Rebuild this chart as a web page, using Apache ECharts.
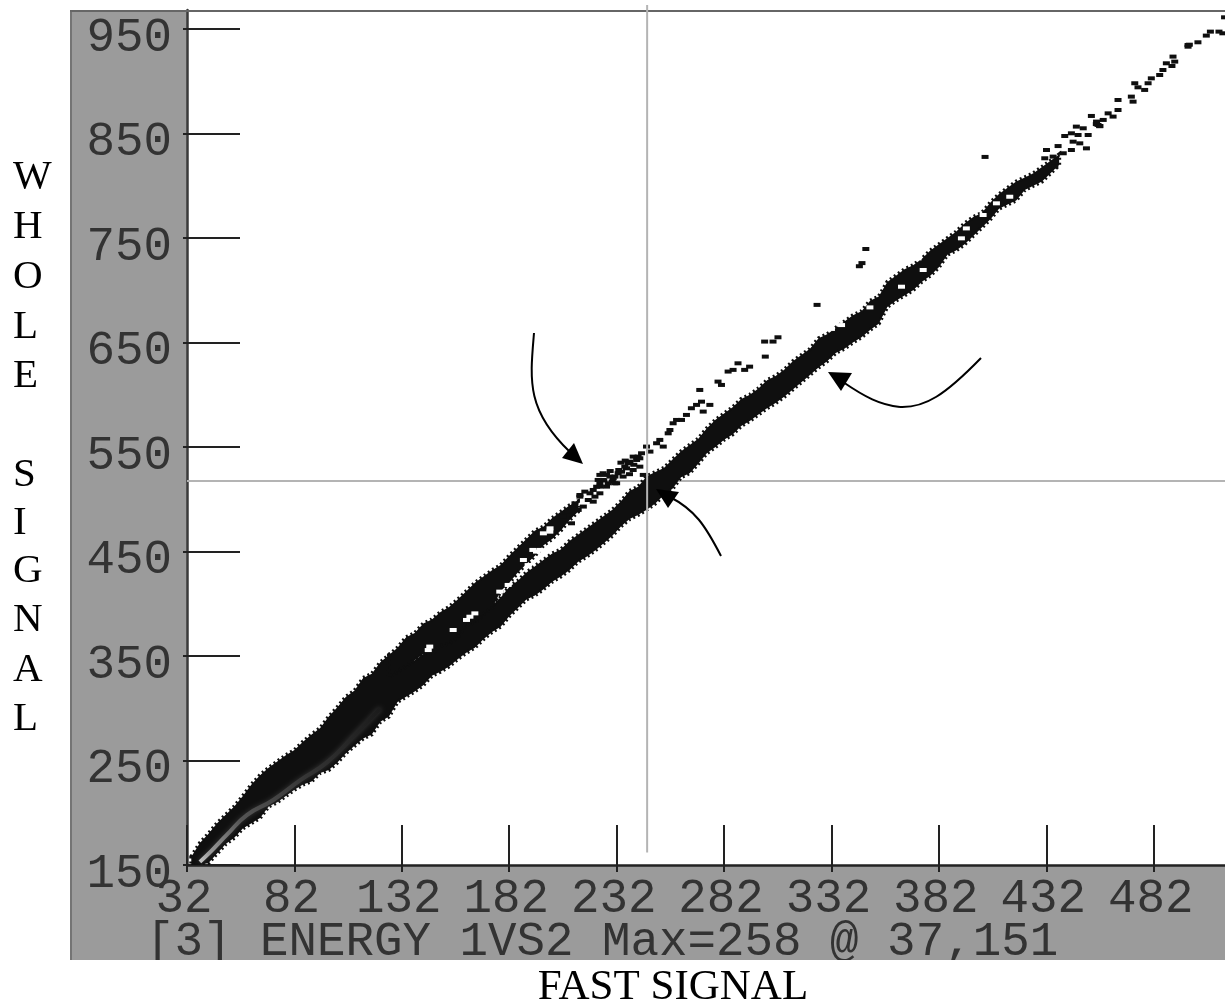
<!DOCTYPE html>
<html><head><meta charset="utf-8">
<style>html,body{margin:0;padding:0;background:#fff}#c{width:1225px;height:1007px}</style>
<script src="https://cdn.jsdelivr.net/npm/echarts@6/dist/echarts.min.js"></script>
</head><body><div id="c"></div>
<script>
const xTicks=[32,82,132,182,232,282,332,382,432,482];
const yTicks=[150,250,350,450,550,650,750,850,950];
const statusLine="[3] ENERGY 1VS2 Max=258 @ 37,151";
const xAxisTitle="FAST SIGNAL";
const yAxisLetters=["W","H","O","L","E","S","I","G","N","A","L"];
const crosshairX=246.2, crosshairY=517.5;

// main locus: fast signal, lower edge, upper edge of the whole signal
const mainX=[34,38,42,46,50,54,58,62,66,70,74,78,82,86,90,94,98,102,106,110,114,118,122,126,130,134,138,142,146,150,154,158,162,166,170,174,178,182,186,190,194,198,202,206,210,214,218,222,226,230,234,238,242,246,250,254,258,262,266,270,274,278,282,286,290,294,298,302,306,310,314,318,322,326,330,334,338,342,346,350,354,358,362,366,370,374,378,382,386,390,394,398,402,406,410,414,418,422,426,430,434,438];
const mainLow=[150,150,152,161,170,176,185,190,195,206,210,216,222,227,230,238,241,248,257,264,271,275,287,292,306,311,316,322,331,335,340,347,353,358,366,373,378,388,396,404,408,414,421,426,432,440,445,451,458,465,474,481,485,490,496,504,510,521,525,534,544,550,557,562,570,575,581,587,592,598,605,612,619,626,632,640,644,650,655,662,668,684,690,695,700,708,714,722,734,738,744,752,760,768,778,782,786,796,800,804,812,820];
const mainHigh=[158,171,180,190,198,206,216,227,236,243,249,255,260,268,275,281,292,301,311,317,329,333,344,351,340,342,346,352,356,364,366,372,382,384,392,398,406,416,422,430,436,442,448,452,460,466,472,478,484,490,498,508,512,522,526,530,538,546,552,558,568,576,582,588,596,600,606,614,618,624,632,638,644,654,658,664,670,676,680,690,694,708,714,720,724,730,738,744,750,756,764,770,774,784,792,798,804,808,812,818,824,830];

// upper locus where it is still dense
const upperX=[126,130,134,138,142,146,150,154,158,162,166,170,174,178,182,186,190,194,198,202,206,210,214];
const upperLow=[330,335,340,346,352,352,360,362,368,380,382,390,396,412,420,430,438,446,456,462,470,480,488];
const upperHigh=[351,358,368,372,381,385,392,397,404,412,420,426,432,437,446,454,462,470,474,482,488,494,498];

// bright ridge inside the low-energy part of the locus
const ridgeX=[38,43.6,50.6,60,72,84.6,97,109,122];
const ridgeY=[153,164,179,198,212,231,248,272,300];

// isolated counts: upper locus fragments, strays, and the far right tail
const speckX=[214.9,219.6,221.1,216.5,224.2,222.7,225.7,228.9,224.2,227.3,232,231.2,235,237.4,239.7,236.6,242.8,242,244.4,243.6,245.9,247.5,250.6,252.1,253.7,256,258.3,259.9,256.8,262.2,264.5,266.8,269.2,271.5,272.3,275.4,270.7,279.2,280.8,283.9,286.2,288.5,291.6,293.9,300.9,304.8,307.1,301.2,226,229,233,238,240,234,230,236,348,346.2,345,325.3,403.5,432.1,437.5,431.3,435.2,439.9,443.7,436,440.6,444.5,447.6,450.7,443.7,446,449.2,446.8,451.5,453,456.1,458.5,460.8,463.1,465.4,465.4,471.6,472.4,473.2,474.7,477.8,479.4,480.9,484.8,486.3,487.9,491,491.8,490.5,498,498.6,502.6,506.5,508.4,512.4,514.2,515,455.3,456.9,214.9,217.2,212.6,214.1,209.5,207.2,211,218.8,221.1,224.2,225.7,228.1,230.4,232.7,235.8,238.2,241.3,239.7,234.3,242.8,221.9,227.3,224.2,223.4,231.2,455.4,456.9,498];
const speckY=[504.1,505.7,497.7,493,505.7,512,524.9,521.7,515.3,512.1,515.3,521.7,521.7,534.4,540.8,529.6,531.2,540.8,523.3,544,550.4,545.6,553.6,556.8,550.4,563.1,572.7,575.9,566.3,575.9,580.7,587.1,590.3,593.4,583.9,590.3,604.6,612.6,609.4,622.2,623.8,630.1,623.8,626.9,650.9,650.9,655,636.5,518,527,528,524,533,535,517,537,739.5,726,723,686,827.6,834.2,838,826.3,827.9,831.1,834.2,818.3,847.6,842.2,840.6,835.8,850.2,856.6,855,848.6,848.6,866.8,858.2,863,869.3,866.2,872.5,882.1,885.3,880.5,898.1,894.2,891.7,898.1,902.8,906,910.8,917.2,923.6,918.8,914.6,933.1,935,937.3,943.7,947.5,947.5,945.9,961.2,859,857,502.5,507.3,496.1,489.8,488.2,483.4,477,499.3,508.9,512.1,518.5,515.3,520.1,524.9,531.2,536,537.6,528,526.4,539.2,502.5,523.3,523.3,518.5,515.3,861.4,857.2,934.7];

// empty bins inside the dense loci
const holeX=[332,336.7,349.9,374.7,364.6,372.3,394.8,392.5,408.8,402.6,415,197.9,201,193,188.6,196.3,144.3,155.9,162.1,166,177.6,181.5,190.8,194.7,200.9,145,163.7];
const holeY=[663,666.7,683.6,719.4,703.4,730.5,759.2,749.7,783.2,772,789.5,467.4,472.2,451.5,441.9,451.5,355.7,374.9,384.5,390.8,411.6,418,437,449.9,469,359,387.6];

const INK='#0f0f0f', PANEL='#9b9b9b', CROSS='#b4b4b4', TICK='#222';
const labelStyle={color:'#333',fontFamily:'Liberation Mono',fontSize:47.5};
const zip=(a,b)=>a.map((v,i)=>[v,b[i]]);
const band=(name,xs,lo,hi)=>({
 name,type:'custom',clip:true,silent:true,z:3,
 data:xs.map((v,i)=>[v,lo[i],hi[i]]),
 encode:{x:0,y:[1,2]},
 renderItem(params,api){
  if(params.dataIndex!==0) return null;
  const top=xs.map((v,i)=>api.coord([v,hi[i]]));
  const bottom=xs.map((v,i)=>api.coord([v,lo[i]])).reverse();
  // the dashed outline gives the edge its fine, grainy roughness
  return {type:'polygon',shape:{points:top.concat(bottom)},style:{fill:INK,stroke:INK,lineWidth:4,lineDash:[2,3]},silent:true};
 }
});
const commonX={type:'value',min:32,max:515.2,splitLine:{show:false}};
const commonY={type:'value',min:150,max:968.2,splitLine:{show:false}};
const curve=(x1,y1,cpx1,cpy1,cpx2,cpy2,x2,y2)=>({type:'bezierCurve',z:10,silent:true,shape:{x1,y1,cpx1,cpy1,cpx2,cpy2,x2,y2},style:{fill:'none',stroke:'#000',lineWidth:2}});

const graphic=[
 {type:'rect',z:-5,silent:true,shape:{x:70,y:10,width:1155,height:950},style:{fill:PANEL}},
 {type:'rect',z:6,silent:true,shape:{x:70,y:10,width:2,height:950},style:{fill:'#747474'}},
 {type:'rect',z:6,silent:true,shape:{x:70,y:10,width:1155,height:2},style:{fill:'#666'}},
 {type:'text',z:8,silent:true,style:{x:146,y:942,text:statusLine,fill:'#333',font:'47.5px "Liberation Mono"',verticalAlign:'middle'}},
 {type:'rect',z:9,silent:true,shape:{x:0,y:960,width:1225,height:47},style:{fill:'#fff'}},
 {type:'text',z:10,silent:true,style:{x:673,y:988,text:xAxisTitle,fill:'#000',font:'43px "Liberation Serif"',align:'center',verticalAlign:'middle'}},
 // hand-drawn annotation arrows
 curve(534,333,530,380,526,410,570,452),
 {type:'polygon',z:10,silent:true,shape:{points:[[583,464],[562,458],[574,443]]},style:{fill:'#000'}},
 curve(721,556,705,525,695,510,670,497),
 {type:'polygon',z:10,silent:true,shape:{points:[[656,489],[668,508],[679,492]]},style:{fill:'#000'}},
 curve(981,358,945,395,925,408,900,407),
 curve(900,407,880,405,865,397,843,382),
 {type:'polygon',z:10,silent:true,shape:{points:[[828,372],[852,373],[841,391]]},style:{fill:'#000'}}
];
const letterY=[177,227,277,327,376,475,523,571,620,670,719];
yAxisLetters.forEach((ch,i)=>graphic.push({type:'text',z:10,silent:true,style:{x:13,y:letterY[i],text:ch,fill:'#000',font:'41px "Liberation Serif"',verticalAlign:'middle'}}));

const chart=echarts.init(document.getElementById('c'),null,{renderer:'canvas',width:1225,height:1007});
chart.setOption({
 animation:false,
 grid:{left:187,top:10,width:1038,height:855,show:true,backgroundColor:'#fff',borderWidth:0,containLabel:false},
 graphic:{elements:graphic},
 xAxis:[
  {...commonX,position:'bottom',axisLine:{show:true,lineStyle:{color:TICK,width:2.5}},
   axisTick:{show:true,inside:true,length:40,customValues:xTicks,lineStyle:{color:TICK,width:2}},
   axisLabel:{customValues:xTicks,margin:10,formatter:'{a|{value}}',rich:{a:{...labelStyle,padding:[0,6,0,0]}},hideOverlap:false,showMinLabel:true,showMaxLabel:true}},
  {...commonX,position:'bottom',axisLine:{show:false},axisLabel:{show:false},
   axisTick:{show:true,length:7,customValues:xTicks,lineStyle:{color:TICK,width:2}}}
 ],
 yAxis:[
  {...commonY,position:'left',axisLine:{show:true,lineStyle:{color:'#3a3a3a',width:2.5}},
   axisTick:{show:true,inside:true,length:53,customValues:yTicks,lineStyle:{color:TICK,width:2}},
   axisLabel:{...labelStyle,customValues:yTicks,margin:15,verticalAlign:'top',lineHeight:18,hideOverlap:false,showMinLabel:true,showMaxLabel:true}},
  {...commonY,position:'left',axisLine:{show:false},axisLabel:{show:false},
   axisTick:{show:true,length:4,customValues:yTicks,lineStyle:{color:TICK,width:2}}}
 ],
 series:[
  {name:'crosshair fast',type:'line',data:[[32,crosshairY],[515.2,crosshairY]],showSymbol:false,lineStyle:{color:CROSS,width:2},silent:true,z:1},
  band('main locus',mainX,mainLow,mainHigh),
  band('upper locus',upperX,upperLow,upperHigh),
  {name:'ridge',type:'line',data:zip(ridgeX,ridgeY),smooth:true,showSymbol:false,silent:true,z:4,
   lineStyle:{width:4,shadowBlur:5,shadowColor:'rgba(120,120,120,.4)',color:{type:'linear',x:0,y:1,x2:1,y2:0,colorStops:[{offset:0,color:'#d0d0d0'},{offset:.07,color:'#999'},{offset:.25,color:'#555'},{offset:.6,color:'#333'},{offset:1,color:'#1a1a1a'}]}}},
  {name:'holes',type:'scatter',data:zip(holeX,holeY),symbol:'rect',symbolSize:[7,4],itemStyle:{color:'#fff',opacity:1},silent:true,z:5},
  {name:'specks',type:'scatter',data:zip(speckX,speckY),symbol:'rect',symbolSize:[7,4],itemStyle:{color:INK,opacity:1},silent:true,z:5},
  {name:'crosshair whole',type:'line',clip:false,data:[[crosshairX,973],[crosshairX,162]],showSymbol:false,lineStyle:{color:CROSS,width:2},silent:true,z:6}
 ]
});
</script></body></html>
